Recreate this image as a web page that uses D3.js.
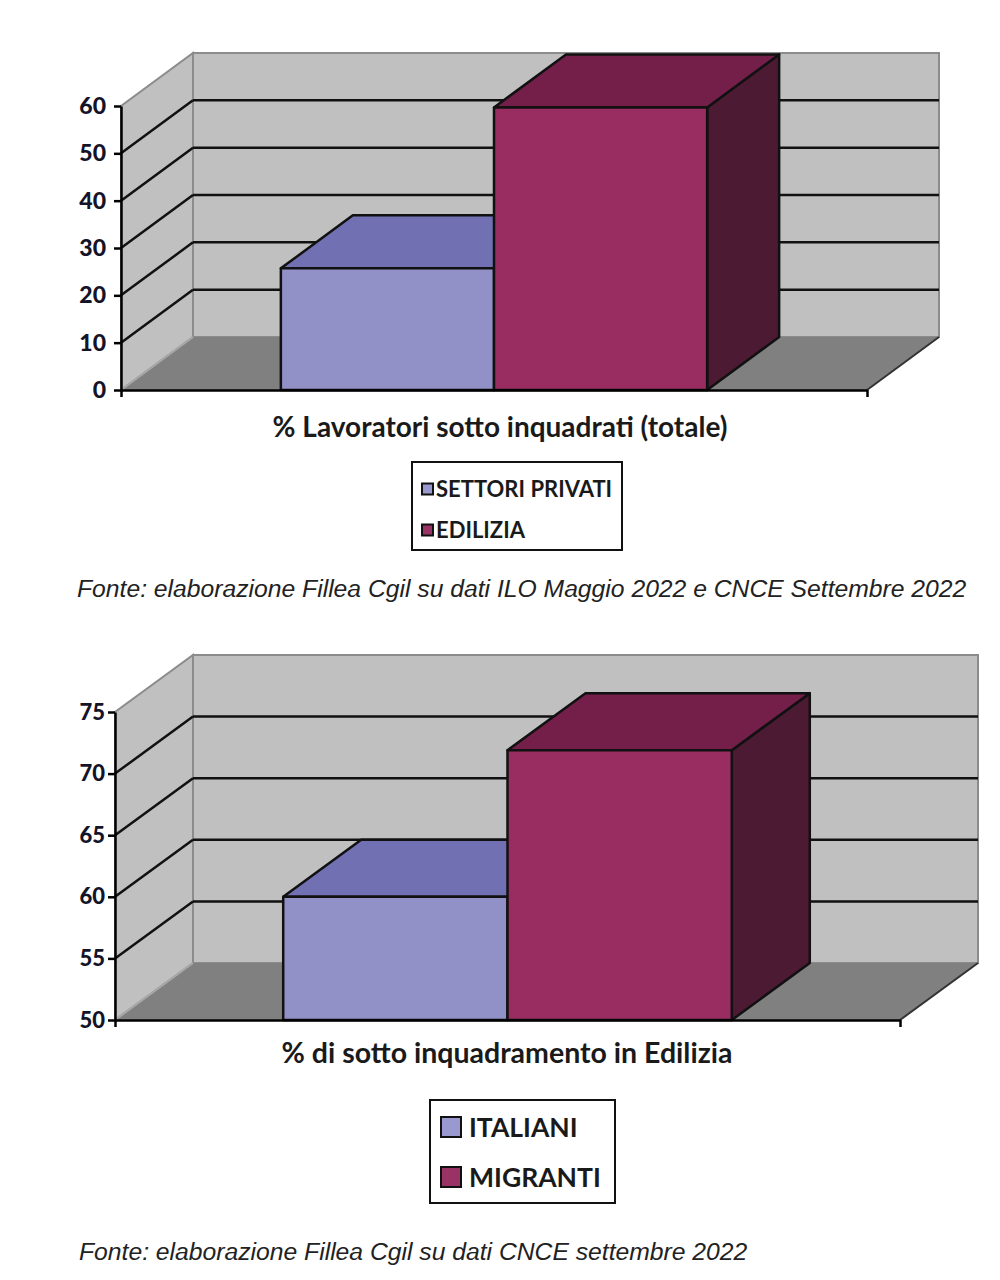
<!DOCTYPE html>
<html>
<head>
<meta charset="utf-8">
<script src="https://cdn.jsdelivr.net/npm/d3@7"></script>
<style>
  body { margin: 0; background: #fff; }
  svg { display: block; }
</style>
</head>
<body>
<div id="chart"></div>
<script>
// Chart 1 ~ share of under-classified workers
var title1 = "% Lavoratori sotto inquadrati (totale)";
var series1 = ["SETTORI PRIVATI", "EDILIZIA"];
var values1 = [25.7, 59.7];
var ticks1 = [0, 10, 20, 30, 40, 50, 60];
var source1 = "Fonte: elaborazione Fillea Cgil su dati ILO Maggio 2022 e CNCE Settembre 2022";

// Chart 2 ~ construction only, italians vs migrants
var title2 = "% di sotto inquadramento in Edilizia";
var series2 = ["ITALIANI", "MIGRANTI"];
var values2 = [60.0, 71.9];
var ticks2 = [50, 55, 60, 65, 70, 75];
var source2 = "Fonte: elaborazione Fillea Cgil su dati CNCE settembre 2022";

// Shading for each series: front face, top face, side face, legend key
var colours = [
    {front: "#9191c7", top: "#7170b3", side: "#55558f", key: "#9999d0"},
    {front: "#992d62", top: "#731f4a", side: "#4d1a33", key: "#993366"}
];

var svg = d3.select("#chart").append("svg")
    .attr("width", 1000)
    .attr("height", 1280);

svg.append("rect")
    .attr("width", 1000)
    .attr("height", 1280)
    .attr("fill", "#fff");

var poly = function (pts) {
    return pts.map(function (p) { return p.join(","); }).join(" ");
};

// Draws one excel-style 3D column chart
var bar3d = function (opts) {
    var g = svg.append("g");
    var x0 = opts.left, x1 = opts.right, base = opts.base;
    var dx = opts.depth, dy = Math.round(opts.depth * 0.736);
    var lo = opts.ticks[0], hi = opts.ticks[opts.ticks.length - 1];

    var y = d3.scaleLinear().domain([lo, hi]).range([base, opts.top]);
    var x = d3.scaleBand().domain(opts.series).range([x0, x1])
        .paddingInner(0).paddingOuter(0.75);
    var top = y(hi);

    // Left side wall
    g.append("polygon")
        .attr("points", poly([[x0, base], [x0, top], [x0 + dx, top - dy], [x0 + dx, base - dy]]))
        .attr("fill", "#c0c0c0")
        .attr("stroke", "#8c8c8c")
        .attr("stroke-width", 2);

    // Back wall
    g.append("rect")
        .attr("x", x0 + dx)
        .attr("y", top - dy)
        .attr("width", x1 - x0)
        .attr("height", base - top)
        .attr("fill", "#c0c0c0")
        .attr("stroke", "#8c8c8c")
        .attr("stroke-width", 2);

    // Floor
    g.append("polygon")
        .attr("points", poly([[x0, base], [x1, base], [x1 + dx, base - dy], [x0 + dx, base - dy]]))
        .attr("fill", "#808080");
    g.append("line")
        .attr("x1", x0).attr("y1", base)
        .attr("x2", x0 + dx).attr("y2", base - dy)
        .attr("stroke", "#a8a8a8").attr("stroke-width", 2);
    g.append("line")
        .attr("x1", x1).attr("y1", base)
        .attr("x2", x1 + dx).attr("y2", base - dy)
        .attr("stroke", "#333").attr("stroke-width", 2);

    // Gridlines on the walls (not for the floor and the top edge)
    var inner = opts.ticks.slice(1, -1);
    g.selectAll(".grid-back").data(inner).enter().append("line")
        .attr("x1", x0 + dx)
        .attr("x2", x1 + dx)
        .attr("y1", function (d) { return y(d) - dy; })
        .attr("y2", function (d) { return y(d) - dy; })
        .attr("stroke", "#111")
        .attr("stroke-width", 2.5);
    g.selectAll(".grid-side").data(inner).enter().append("line")
        .attr("x1", x0)
        .attr("x2", x0 + dx)
        .attr("y1", function (d) { return y(d); })
        .attr("y2", function (d) { return y(d) - dy; })
        .attr("stroke", "#111")
        .attr("stroke-width", 2.5);

    // Bars, left to right so the next bar hides the previous side face
    opts.series.forEach(function (s, i) {
        var bx = x(s), bw = x.bandwidth(), by = y(opts.values[i]);
        var c = colours[i];
        var bar = g.append("g")
            .attr("stroke", "#111")
            .attr("stroke-width", 2.5)
            .attr("stroke-linejoin", "round");
        bar.append("polygon")
            .attr("points", poly([[bx + bw, by], [bx + bw + dx, by - dy], [bx + bw + dx, base - dy], [bx + bw, base]]))
            .attr("fill", c.side);
        bar.append("polygon")
            .attr("points", poly([[bx, by], [bx + dx, by - dy], [bx + bw + dx, by - dy], [bx + bw, by]]))
            .attr("fill", c.top);
        bar.append("rect")
            .attr("x", bx)
            .attr("y", by)
            .attr("width", bw)
            .attr("height", base - by)
            .attr("fill", c.front);
    });

    // Value axis
    var yAxis = g.append("g")
        .attr("transform", "translate(" + x0 + ",0)")
        .call(d3.axisLeft(y).tickValues(opts.ticks).tickSizeInner(7).tickSizeOuter(0).tickPadding(opts.tickPad));
    yAxis.select(".domain").attr("stroke", "#000").attr("stroke-width", 2.5);
    yAxis.selectAll(".tick line").attr("stroke", "#000").attr("stroke-width", 2.5);
    yAxis.selectAll(".tick text")
        .attr("fill", "#141428")
        .style("font-family", "Lato, sans-serif")
        .style("font-weight", "900")
        .style("font-size", opts.tickFont + "px");

    // Category axis along the front of the floor
    var xAxis = g.append("g")
        .attr("transform", "translate(0," + base + ")")
        .call(d3.axisBottom(d3.scaleLinear().domain([0, 1]).range([x0, x1]))
            .tickValues([0, 1]).tickFormat("").tickSizeInner(7).tickSizeOuter(0));
    xAxis.select(".domain").attr("stroke", "#000").attr("stroke-width", 2.5);
    xAxis.selectAll(".tick line").attr("stroke", "#000").attr("stroke-width", 2.5);

    // Category title under the axis
    g.append("text")
        .attr("x", opts.titleX)
        .attr("y", opts.titleY)
        .attr("text-anchor", "middle")
        .attr("fill", "#1a1a1a")
        .style("font-family", "Lato, sans-serif")
        .style("font-weight", "bold")
        .style("font-size", opts.titleFont + "px")
        .text(opts.title);

    // Legend box
    var lg = opts.legend;
    g.append("rect")
        .attr("x", lg.x).attr("y", lg.y)
        .attr("width", lg.w).attr("height", lg.h)
        .attr("fill", "#fff")
        .attr("stroke", "#111")
        .attr("stroke-width", 2);
    opts.series.forEach(function (s, i) {
        g.append("rect")
            .attr("x", lg.keyX)
            .attr("y", lg.rows[i] - lg.key / 2)
            .attr("width", lg.key)
            .attr("height", lg.key)
            .attr("fill", colours[i].key)
            .attr("stroke", "#111")
            .attr("stroke-width", 2);
        g.append("text")
            .attr("x", lg.textX)
            .attr("y", lg.rows[i])
            .attr("dy", "0.36em")
            .attr("fill", "#1a1a1a")
            .style("font-family", "Lato, sans-serif")
            .style("font-weight", "bold")
            .style("font-size", lg.font + "px")
            .text(s);
    });

    // Source note
    g.append("text")
        .attr("x", opts.sourceX)
        .attr("y", opts.sourceY)
        .attr("fill", "#222")
        .style("font-family", "'Liberation Sans', Arial, sans-serif")
        .style("font-style", "italic")
        .style("font-size", "24.7px")
        .text(opts.source);
};

bar3d({
    series: series1, values: values1, ticks: ticks1, title: title1, source: source1,
    left: 121, right: 867, base: 390, top: 106, depth: 72,
    tickFont: 23, tickPad: 8,
    titleX: 500, titleY: 437, titleFont: 28,
    legend: {x: 412, y: 462, w: 210, h: 88, key: 11, keyX: 422, textX: 436, rows: [489, 530], font: 22},
    sourceX: 77, sourceY: 597
});

bar3d({
    series: series2, values: values2, ticks: ticks2, title: title2, source: source2,
    left: 115, right: 900, base: 1020, top: 712, depth: 78,
    tickFont: 22, tickPad: 3,
    titleX: 507, titleY: 1063, titleFont: 28.5,
    legend: {x: 430, y: 1100, w: 185, h: 103, key: 20, keyX: 441, textX: 469, rows: [1127, 1177], font: 26.5},
    sourceX: 79, sourceY: 1260
});
</script>
</body>
</html>
